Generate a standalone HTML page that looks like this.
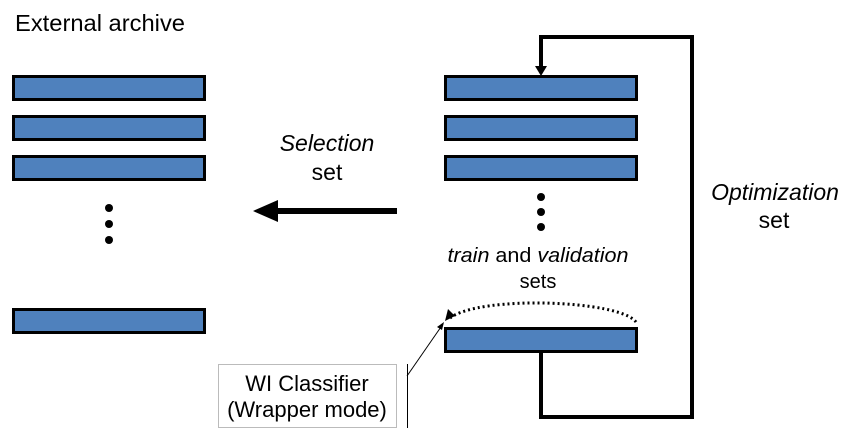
<!DOCTYPE html>
<html><head><style>html,body{margin:0;padding:0;background:#fff}</style></head><body>
<svg width="857" height="435" xmlns="http://www.w3.org/2000/svg" font-family="Liberation Sans, Arial, sans-serif">
<g fill="#4f81bd" stroke="#000" stroke-width="3">
<rect x="13.5" y="76.5" width="191" height="23"/>
<rect x="13.5" y="116.5" width="191" height="23"/>
<rect x="13.5" y="156.5" width="191" height="23"/>
<rect x="13.5" y="309.5" width="191" height="23"/>
<rect x="445.5" y="76.5" width="191" height="23"/>
<rect x="445.5" y="116.5" width="191" height="23"/>
<rect x="445.5" y="156.5" width="191" height="23"/>
<rect x="445.5" y="328.5" width="191" height="23"/>
</g>
<g fill="#000">
<circle cx="109" cy="208" r="4"/><circle cx="109" cy="224" r="4"/><circle cx="109" cy="240" r="4"/>
<circle cx="541" cy="197" r="4"/><circle cx="541" cy="212" r="4"/><circle cx="541" cy="227" r="4"/>
<path d="M253,211 L278,200 L278,222 z"/>
</g>
<line x1="276" y1="211" x2="397" y2="211" stroke="#000" stroke-width="6"/>
<path d="M541,352 V417 H692 V37 H541 V72" fill="none" stroke="#000" stroke-width="4"/>
<path d="M535,66 L541,76 L547,66 z" fill="#000"/>
<path d="M636,322 C620,300 480,295 450,318" fill="none" stroke="#000" stroke-width="3" stroke-dasharray="2,3"/>
<path d="M445,321 L448,309 L455,316 z" fill="#000"/>
<rect x="218.5" y="364.5" width="178" height="63" fill="#fff" stroke="#bbb" stroke-width="1"/>
<line x1="407.5" y1="364" x2="407.5" y2="428" stroke="#000" stroke-width="1"/>
<line x1="407" y1="376" x2="443" y2="324" stroke="#000" stroke-width="1"/>
<path d="M444,322 L437,327 L442,330 z" fill="#000"/>
<text x="15" y="31" font-size="23" textLength="170" lengthAdjust="spacingAndGlyphs">External archive</text>
<text x="327" y="151" font-size="23" text-anchor="middle" font-style="italic">Selection</text>
<text x="327" y="180" font-size="23" text-anchor="middle">set</text>
<text x="775" y="200" font-size="23" text-anchor="middle" font-style="italic">Optimization</text>
<text x="774" y="228" font-size="23" text-anchor="middle">set</text>
<text x="538" y="262" font-size="20" text-anchor="middle" textLength="181" lengthAdjust="spacingAndGlyphs"><tspan font-style="italic">train</tspan> and <tspan font-style="italic">validation</tspan></text>
<text x="538" y="288" font-size="20" text-anchor="middle">sets</text>
<text x="307" y="391" font-size="22" text-anchor="middle">WI Classifier</text>
<text x="307" y="417" font-size="22" text-anchor="middle">(Wrapper mode)</text>
</svg>
</body></html>
